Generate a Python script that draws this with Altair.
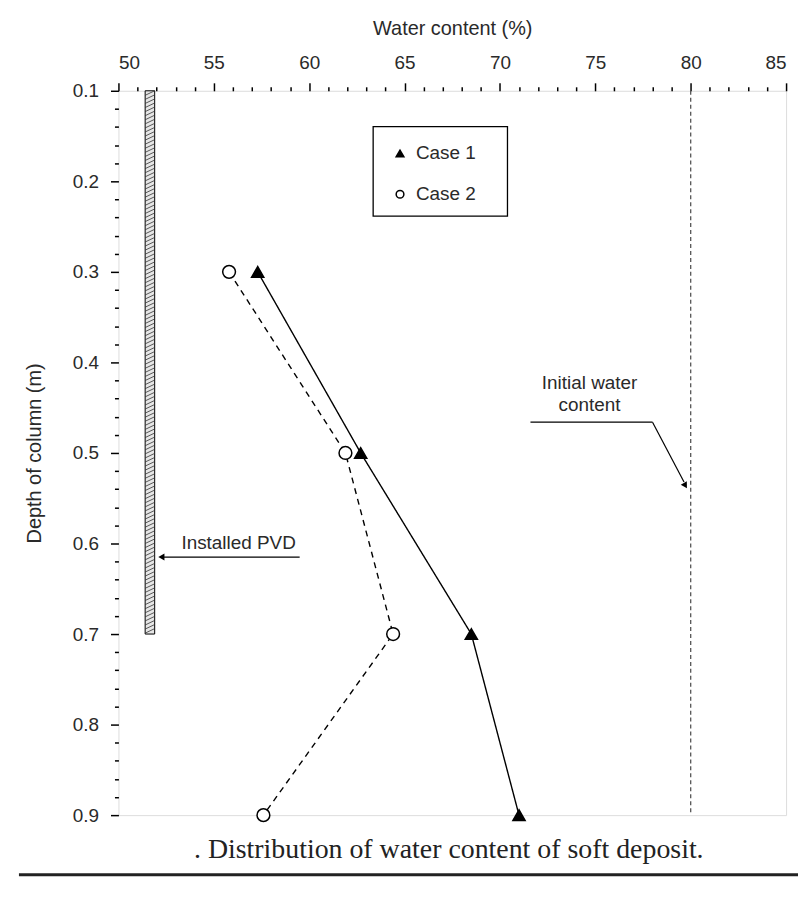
import altair as alt
import pandas as pd
import numpy as np

# ---- data ----
depth = [0.3, 0.5, 0.7, 0.9]
case1_wc = [57.3, 62.7, 68.5, 71.0]
case2_wc = [55.8, 61.9, 64.4, 57.6]

pvd_x = [51.4, 51.9]
pvd_depth = [0.1, 0.7]
initial_wc = 80.0
initial_depth = [0.1, 0.9]

legend_labels = ["Case 1", "Case 2"]
legend_shapes = ["triangle-up", "circle"]
legend_fills = ["black", "white"]

x_ticks = list(range(50, 86))
y_ticks = [round(0.1 + 0.02 * i, 2) for i in range(41)]

FONT = "Liberation Sans"
TXT = "#2a2a2a"

rows = []
for d, w in zip(depth, case1_wc):
    rows.append({"case": "Case 1", "depth": d, "wc": w})
for d, w in zip(depth, case2_wc):
    rows.append({"case": "Case 2", "depth": d, "wc": w})
df = pd.DataFrame(rows)

xs = alt.Scale(domain=[50, 85], nice=False, zero=False)
ys = alt.Scale(domain=[0.1, 0.9], reverse=True, nice=False, zero=False)

YMAJ = "abs(datum.value*10 - round(datum.value*10)) < 1e-6"
x_axis = alt.Axis(
    orient="top", title="Water content (%)", values=x_ticks,
    labelExpr="datum.value % 5 === 0 ? '' + datum.value : ''",
    tickSize={"condition": {"test": "datum.value % 5 === 0", "value": 8}, "value": 4},
    tickColor="black", tickWidth=1.5, domain=False, grid=False, labelOverlap=False,
    labelFont=FONT, labelFontSize=19, labelColor=TXT, labelPadding=10,
    titleFont=FONT, titleFontSize=20, titleColor=TXT, titleFontWeight="normal",
    titlePadding=16,
)
y_axis = alt.Axis(
    orient="left", title="Depth of column (m)", values=y_ticks,
    labelExpr=YMAJ + " ? format(datum.value, '.1f') : ''",
    tickSize={"condition": {"test": YMAJ, "value": 8}, "value": 4},
    tickColor="black", tickWidth=1.5, domain=False, grid=False, labelOverlap=False,
    labelFont=FONT, labelFontSize=19, labelColor=TXT, labelPadding=12,
    titleFont=FONT, titleFontSize=20, titleColor=TXT, titleFontWeight="normal",
    titlePadding=28,
)


def X(f):
    return alt.X(f, scale=xs, axis=x_axis)


def Y(f):
    return alt.Y(f, scale=ys, axis=y_axis)


base = alt.Chart(df)

lines = base.mark_line(color="black", strokeWidth=1.4).encode(
    x=X("wc:Q"), y=Y("depth:Q"),
    strokeDash=alt.StrokeDash("case:N", scale=alt.Scale(domain=legend_labels, range=[[1, 0], [6, 5]]), legend=None),
    detail="case:N",
    order=alt.Order("depth:Q"),
)

points = base.mark_point(filled=True, stroke="black", strokeWidth=1.5, opacity=1).encode(
    x=X("wc:Q"), y=Y("depth:Q"),
    shape=alt.Shape("case:N", scale=alt.Scale(domain=legend_labels, range=legend_shapes), legend=None),
    fill=alt.Fill("case:N", scale=alt.Scale(domain=legend_labels, range=legend_fills), legend=None),
    size=alt.Size("case:N", scale=alt.Scale(domain=legend_labels, range=[150, 165]), legend=None),
)

# PVD column (hatched)
pvd_df = pd.DataFrame({"x": [pvd_x[0]], "x2": [pvd_x[1]], "y": [pvd_depth[0]], "y2": [pvd_depth[1]]})
pvd = alt.Chart(pvd_df).mark_rect(fill="#e6e6e6", stroke="black", strokeWidth=1).encode(
    x=X("x:Q"), x2="x2:Q", y=Y("y:Q"), y2="y2:Q")
hatch_d = np.arange(pvd_depth[0], pvd_depth[1] - 0.005, 0.0045)
hatch_df = pd.DataFrame({"x": pvd_x[0], "x2": pvd_x[1], "y": hatch_d + 0.005, "y2": hatch_d})
hatch = alt.Chart(hatch_df).mark_rule(color="#333", strokeWidth=0.8).encode(
    x=X("x:Q"), x2="x2:Q", y=Y("y:Q"), y2="y2:Q")

# initial water content line
iw_df = pd.DataFrame({"x": [initial_wc], "y": [initial_depth[0]], "y2": [initial_depth[1]]})
iw = alt.Chart(iw_df).mark_rule(color="#555", strokeWidth=1.3, strokeDash=[4, 3]).encode(
    x=X("x:Q"), y=Y("y:Q"), y2="y2:Q")

# annotations
ann_text = pd.DataFrame({
    "x": [56.3, 74.7, 74.7],
    "y": [0.600, 0.423, 0.447],
    "t": ["Installed PVD", "Initial water", "content"],
})
ann = alt.Chart(ann_text).mark_text(font=FONT, fontSize=19, color=TXT, baseline="middle").encode(
    x=X("x:Q"), y=Y("y:Q"), text="t:N")

ann_lines = pd.DataFrame({
    "x": [52.3, 71.6, 78.0],
    "x2": [59.5, 78.0, 79.65],
    "y": [0.615, 0.466, 0.466],
    "y2": [0.615, 0.466, 0.532],
})
ann_rules = alt.Chart(ann_lines).mark_rule(color="black", strokeWidth=1.2).encode(
    x=X("x:Q"), x2="x2:Q", y=Y("y:Q"), y2="y2:Q")

heads = pd.DataFrame({"x": [52.25, 79.72], "y": [0.615, 0.536], "a": [270, 149]})
arrowheads = alt.Chart(heads).mark_point(shape="triangle-up", filled=True, color="black", size=50, opacity=1).encode(
    x=X("x:Q"), y=Y("y:Q"), angle=alt.Angle("a:Q", scale=None))

# legend box (drawn by hand)
leg_layers = [alt.Chart(pd.DataFrame({"a": [0]})).mark_rect(fill="white", stroke="black", strokeWidth=1.3).encode(
    x=alt.value(256), x2=alt.value(391), y=alt.value(36), y2=alt.value(126))]
for i, (lab, shp, fil) in enumerate(zip(legend_labels, legend_shapes, legend_fills)):
    row_y = 63 + 41 * i
    ldf = pd.DataFrame({"lab": [lab]})
    leg_layers.append(alt.Chart(ldf).mark_point(shape=shp, filled=True, fill=fil, stroke="black",
                                                strokeWidth=1.5, size=60, opacity=1).encode(
        x=alt.value(283), y=alt.value(row_y)))
    leg_layers.append(alt.Chart(ldf).mark_text(font=FONT, fontSize=19, color=TXT, align="left",
                                               baseline="middle").encode(
        x=alt.value(299), y=alt.value(row_y), text="lab:N"))

# caption and bottom rule
cap = alt.Chart(pd.DataFrame({"t": [". Distribution of water content of soft deposit."]})).mark_text(
    font="Liberation Serif", fontSize=28, color="#222", align="center", baseline="middle").encode(
    x=alt.value(332), y=alt.value(763), text="t:N")
bottom_rule = alt.Chart(pd.DataFrame({"a": [0]})).mark_rule(color="#222", strokeWidth=3).encode(
    x=alt.value(-100), x2=alt.value(683), y=alt.value(788))

chart = alt.layer(pvd, hatch, iw, lines, points, ann_rules, arrowheads, ann, *leg_layers, cap, bottom_rule).properties(
    width=671, height=728,
    padding={"left": 9, "top": 8, "right": 0, "bottom": 2},
).configure_view(stroke="black", strokeWidth=2).configure(background="white")

chart.save("out.html", embed_options={"renderer": "svg", "actions": False})
